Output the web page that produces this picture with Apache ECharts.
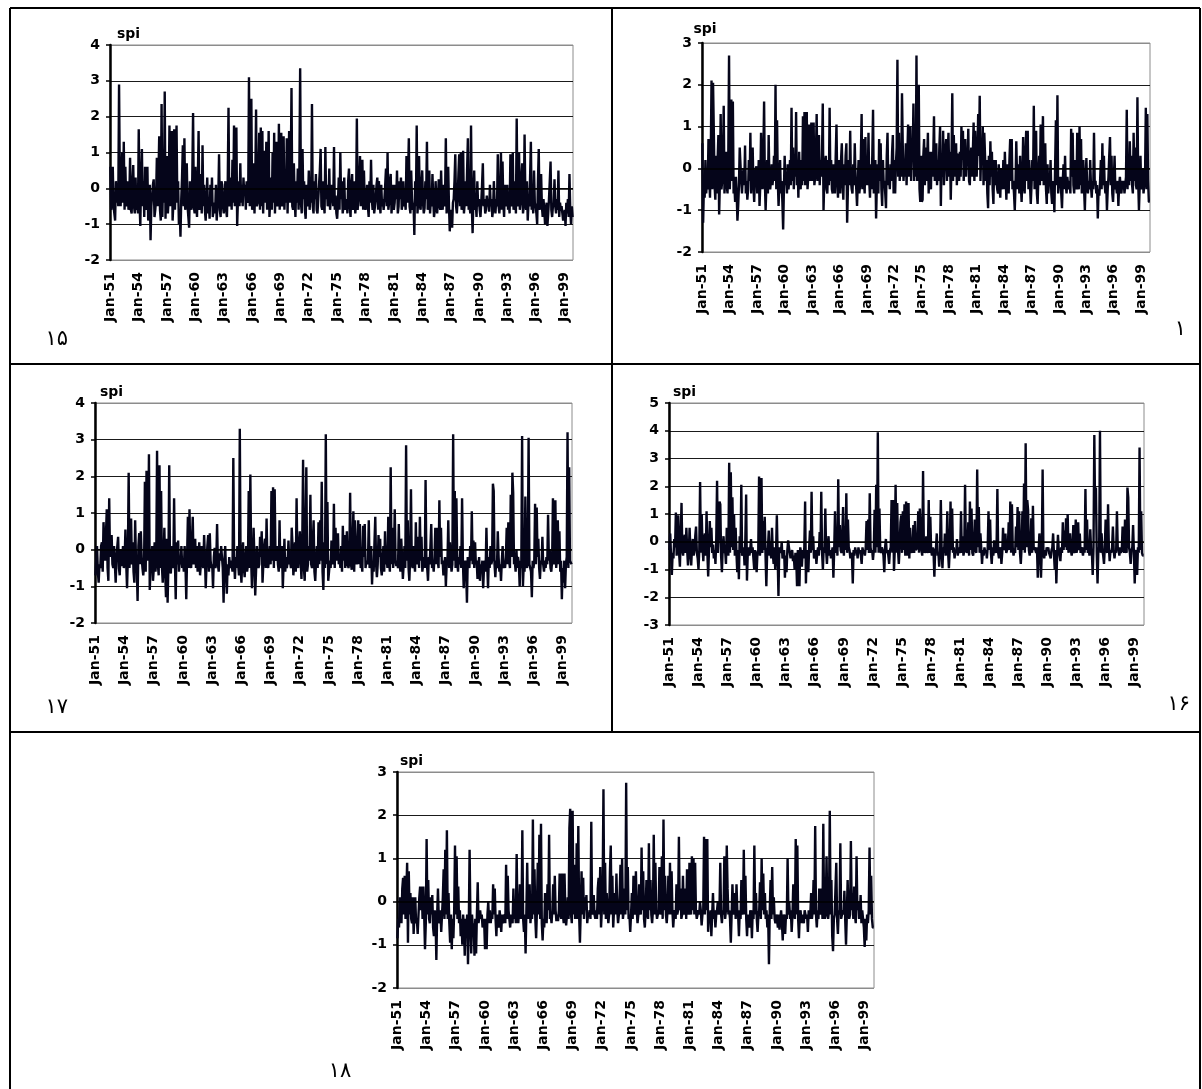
<!DOCTYPE html>
<html><head><meta charset="utf-8">
<script src="https://cdn.jsdelivr.net/npm/echarts@6/dist/echarts.min.js"></script>
<style>html,body{margin:0;padding:0;background:#fff}#c{width:1202px;height:1089px}</style>
</head><body><div id="c"></div><script>
const monthNames=['Jan','Feb','Mar','Apr','May','Jun','Jul','Aug','Sep','Oct','Nov','Dec'];
const firstYear=1951, lastYear=1999;
const tickLabels=['Jan-51','Jan-54','Jan-57','Jan-60','Jan-63','Jan-66','Jan-69','Jan-72','Jan-75','Jan-78','Jan-81','Jan-84','Jan-87','Jan-90','Jan-93','Jan-96','Jan-99'];
const panelLabels=['۱۵','۱','۱۷','۱۶','۱۸'];
const yMins=[-2,-2,-2,-3,-2];
const yMaxs=[4,3,4,5,3];

const spi15=[
0.6,-0.6,-0.3,0.6,-0.5,-0.7,-0.9,0.2,-0.4,0.1,-0.5,2.9,
0.2,-0.5,0.3,1,-0.4,1.3,-0.6,0.6,-0.3,-0.5,0.2,-0.6,
-0.3,0.85,-0.6,-0.7,0.1,0.65,-0.5,-0.7,0.3,-0.6,-0.4,-0.7,
1.65,-0.4,-1.05,0.3,1.1,-0.5,0.2,-0.8,0.6,-0.3,-0.6,0.6,
-0.9,-0.3,0.1,-1.45,-0.5,-0.2,0.1,0.25,-0.8,-0.6,-0.3,0.85,
-0.5,0.3,1.45,-0.6,-0.9,2.35,-0.8,0.5,-0.4,2.7,-0.85,0.4,
0.9,-0.7,-0.3,1.75,-0.5,0.2,1.6,-0.9,-0.4,1.65,-0.6,0.3,
1.75,-0.4,0.2,-1,-0.6,-1.35,-0.3,0.3,1.2,-0.5,1.4,-0.6,
-0.3,0.7,-0.5,-0.8,-1.1,0.2,-0.4,-0.6,0.3,2.1,-0.5,-0.7,
0.6,-0.4,-0.8,0.2,1.6,-0.6,-0.3,0.4,-0.7,1.2,-0.5,0.1,
-0.6,-0.9,-0.3,0.3,-0.7,-0.4,-0.85,0.1,-0.5,0.3,-0.8,-0.6,
-0.4,-0.7,0.1,-0.9,-0.5,-0.3,0.95,-0.6,-0.8,0.2,0.1,-0.5,
-0.7,-0.3,0.2,-0.6,-0.8,0.1,2.25,-0.5,-0.3,0.3,-0.6,0.8,
-0.4,1.75,-0.5,0.3,1.7,-1.05,-0.3,0.2,-0.5,0.7,-0.4,0.1,
-0.5,0.3,-0.2,0.1,-0.6,0.2,-0.4,-0.3,3.1,-0.5,0.4,2.5,
-0.6,-0.3,0.7,-0.7,0.2,2.2,-0.5,-0.4,0.3,1.55,-0.6,1.7,
-0.5,1.6,-0.7,0.2,1.05,-0.4,1.3,-0.6,0.1,1.6,-0.8,-0.3,
0.3,-0.6,1,-0.4,1.55,-0.7,0.2,1.3,-0.5,-0.3,1.8,-0.6,
0.2,1.55,-0.5,-0.3,1.45,-0.6,0.1,-0.4,1.4,-0.7,0.3,1.6,
-0.4,0.3,2.8,-0.5,-0.6,0.7,-0.3,-0.8,0.2,-0.4,0.55,-0.6,
0.5,3.35,-0.4,-0.7,1.1,-0.3,0.2,-0.6,-0.85,0.1,-0.5,-0.3,
0.5,-0.6,-0.2,-0.4,2.35,-0.5,-0.7,0.2,-0.3,0.4,-0.6,-0.7,
-0.3,0.1,0.5,1.1,-0.5,-0.6,0.2,-0.4,-0.7,1.15,-0.3,0.1,
-0.5,-0.4,0.55,-0.6,-0.3,0.1,0,-0.5,1.15,-0.6,-0.2,-0.7,
-0.85,-0.4,0.3,-0.6,1,-0.3,0.2,-0.7,-0.5,0.3,-0.6,-0.4,
-0.3,-0.7,0.2,0.55,-0.5,-0.8,0.1,0.4,-0.6,-0.3,0.2,-0.7,
-0.4,1.95,-0.6,-0.3,0.2,0.9,-0.5,-0.2,0.8,-0.6,0.5,-0.4,
-0.6,-0.3,0.1,-0.5,-0.8,0.2,-0.4,0.8,-0.3,-0.6,0.1,-0.7,
-0.5,-0.3,0.1,0.3,-0.6,0.2,-0.4,-0.7,0.1,-0.5,-0.3,-0.6,
-0.3,0.1,0.55,-0.5,1,-0.6,-0.4,0.2,0.4,-0.7,-0.3,0.1,
-0.6,-0.4,0.1,-0.3,0.5,-0.7,-0.5,0.2,-0.3,0.3,-0.6,-0.4,
0.2,-0.5,-0.3,-0.6,0.9,-0.4,0.3,1.4,-0.5,-0.7,0.5,-0.3,
-0.6,-0.4,-1.3,0.2,-0.5,1.75,-0.7,-0.3,0.9,-0.5,-0.6,0.1,
0.5,-0.4,-0.7,-0.55,0.2,-0.3,1.3,-0.6,-0.4,0.5,-0.7,-0.3,
-0.5,0.4,-0.3,-0.8,-0.6,0.2,-0.4,-0.7,-0.3,0.25,-0.5,-0.6,
0.5,-0.4,-0.6,0.1,-0.5,-0.3,1.4,-0.7,-0.4,0.6,-0.5,-1.2,
-0.6,-0.8,-1.1,-0.4,-0.3,0.2,0.95,-0.5,-0.7,-0.3,0.4,0.95,
-0.5,1,-0.6,-0.3,1.05,-0.7,-0.4,0.2,-0.5,0.5,1.4,-0.6,
-0.4,-0.7,1.75,-0.5,-1.25,-0.3,0.5,-0.6,-0.4,-0.8,0.2,-0.5,
-0.3,-0.6,-0.8,-0.4,0.1,0.7,-0.5,-0.3,-0.7,-0.6,-0.2,-0.5,
-0.4,-0.65,0.1,-0.5,-0.3,-0.8,-0.6,0.2,-0.4,-0.7,-0.3,-0.5,
0.95,-0.5,-0.7,-0.3,1,-0.6,0.75,-0.4,-0.8,0.1,-0.5,-0.3,
0.1,-0.6,-0.4,-0.7,0.95,-0.3,-0.5,1,-0.6,-0.4,0.2,-0.7,
1.95,-0.5,-0.3,1,-0.6,-0.4,0.3,0.7,-0.7,-0.5,1.5,-0.3,
-0.6,0.2,-0.9,-0.4,-0.5,0.3,1.3,-0.6,-0.3,-0.7,0.5,-0.4,
-0.5,-0.7,-1,0.2,1.1,-0.6,-0.4,0.4,-0.5,-0.8,-0.3,-0.6,
-1,-0.6,-0.4,-1.05,-0.7,-0.3,0.2,0.75,-0.6,-0.8,-0.5,-0.4,
0.25,-0.5,-0.7,-0.3,-0.6,0.5,-0.8,-0.4,-0.6,-0.5,-0.7,-0.9,
-0.9,-0.6,-1.05,-0.4,-0.7,-0.3,-0.8,0.4,-0.6,-1,-0.5,-0.8
];

const spi1=[
0.6,-1.3,-0.4,-0.7,0.2,-0.6,-0.3,-0.5,0.7,-0.2,-0.7,0.3,
2.1,-0.5,2.05,0.9,-0.4,-0.75,0.3,-0.6,0.2,0.8,-1.1,-0.3,
1.3,-0.5,-0.3,0.2,1.5,-0.6,-0.2,0.4,-0.4,-0.6,0.3,2.7,
-0.5,0.4,1.65,-0.3,1.6,-0.6,-0.4,-0.8,-0.2,-0.6,-1.25,-0.9,
-0.4,0.5,0.1,-0.3,-0.6,-0.2,0,-0.4,0.55,-0.6,-0.3,-0.75,
-0.5,0.2,-0.3,0.85,-0.6,0.3,0.5,-0.4,-0.8,-0.2,0,0.05,
-0.6,-0.3,0.2,-0.9,-0.4,0.85,-0.2,-0.5,0.3,1.6,-0.3,-1,
-0.4,0.2,-0.6,0.8,-0.3,-0.5,-0.3,0.1,-0.4,-0.2,0.3,-0.3,
2,-0.5,1.15,-0.3,-0.9,-0.4,0.2,-0.6,-0.3,-0.8,-1.46,-0.5,
0.3,-0.4,-0.2,-0.6,0.1,-0.5,-0.3,0.2,-0.4,1.45,-0.3,0.5,
-0.5,0.3,-0.2,1.35,-0.4,0.1,-0.7,0.4,-0.3,-0.5,0.2,-0.4,
1.25,-0.3,1.35,-0.4,0.2,1.35,-0.5,-0.2,1.05,-0.3,0.1,1.1,
-0.3,0.2,1.1,-0.4,-0.2,0.3,1.3,-0.3,0.1,0.8,-0.4,0.2,
-0.2,0.3,1.55,-1,-0.3,0.1,0.3,-0.5,-0.6,0.2,-0.4,1.45,
-0.3,0.2,-0.5,-0.6,0.1,-0.4,-0.6,0.3,1.05,-0.3,-0.7,0.2,
-0.4,-0.6,0.2,0.6,-0.3,-0.75,0.1,-0.4,0.3,0.6,-1.3,-0.5,
0.2,-0.4,0.9,-0.3,-0.5,-0.6,0.1,-0.4,0.6,-0.2,-0.5,-0.9,
-0.3,0.2,-0.6,-0.4,0.3,1.3,-0.5,0.7,-0.3,-0.6,0.75,-0.4,
0.2,-0.4,0.85,-0.3,-0.7,0.1,-0.5,0.3,1.4,-0.6,-0.3,0.2,
-1.2,-0.4,0.1,-0.6,0.7,-0.3,0.6,-0.5,-0.9,0.2,-0.4,-0.3,
-0.6,-0.95,0.3,0.85,-0.4,-0.2,-0.5,0.1,-0.3,0.4,0.8,-0.6,
0.2,-0.6,0.1,0.5,2.6,-0.2,0.85,-0.3,0.4,-0.2,1.8,0.55,
-0.3,0.2,-0.2,0.6,-0.4,0.3,1.05,-0.2,0.4,1,-0.3,0.5,
0.2,1.55,-0.3,0.6,-0.2,2.7,-0.3,0.4,2,-0.5,-0.8,0.3,
-0.8,-0.75,0.3,0.7,-0.4,0.5,-0.3,0.2,0.85,-0.6,0.4,-0.3,
-0.5,0.4,-0.2,0.3,1.25,-0.3,0.3,0.6,-0.4,0.2,-0.3,0.5,
1,-0.9,0.3,-0.2,0.9,-0.4,0.2,0.5,0.7,-0.3,0.4,0.85,
-0.2,0.4,-0.75,0.2,1.8,-0.3,0.8,-0.2,0.5,0.6,-0.4,0.35,
0.3,-0.3,0.4,-0.2,1,0.2,0.9,-0.3,0.4,0.7,-0.2,0.3,
0.2,0.95,-0.3,-0.4,0.3,0.5,-0.2,0.4,1.1,-0.3,0.9,0.2,
-0.2,0.4,1.3,0.3,1.74,-0.3,0.5,0.2,1,-0.4,0.85,0.3,
-0.3,0.2,-0.6,-0.95,0.3,-0.4,0.65,-0.2,0.4,-0.5,-0.85,0.2,
-0.4,0.2,-0.3,-0.5,-0.6,0.1,-0.4,-0.7,0,-0.3,-0.5,0.2,
-0.5,0.4,-0.2,-0.75,0.1,-0.4,-0.6,0.2,0.7,-0.3,0.7,-0.5,
-0.3,-0.6,-1,-0.4,0.65,-0.2,-0.5,0.1,-0.6,0.3,-0.4,-0.8,
-0.2,0.75,-0.4,-0.6,0.3,0.9,-0.3,0.9,-0.5,0.2,-0.4,-0.85,
-0.4,0.2,-0.3,1.5,-0.5,0.4,0.9,-0.6,-0.85,-0.2,0.3,-0.4,
1.05,-0.3,0.4,1.25,-0.4,-0.2,0.6,-0.5,-0.85,0.1,-0.6,-0.3,
-0.4,0.2,-0.6,-0.85,-0.3,-0.5,-1.05,0.1,1.15,-0.4,1.75,-0.6,
-0.3,-0.4,-0.2,-0.6,-0.95,-0.3,0.1,-0.5,0.3,-0.4,-0.6,-0.2,
-0.4,-0.5,-0.3,-0.6,0.95,-0.2,0.85,-0.4,-0.6,0.2,-0.3,-0.5,
0.85,-0.3,-0.5,1,-0.4,0.7,-0.6,-0.3,0.2,-0.5,-1,-0.3,
0.25,-0.4,-0.6,-0.3,-0.5,0.2,-0.4,-0.7,-0.3,-0.5,0.85,-0.4,
-0.3,-0.6,-0.4,-1.2,-0.5,-0.65,-0.3,0.2,-0.5,0.6,-0.4,0.3,
-0.4,-0.6,-0.3,-1,-0.5,-0.2,0.3,0.75,-0.4,0.3,-0.6,-0.8,
-0.3,0.3,-0.5,-0.4,-0.6,-0.3,-0.9,-0.4,-0.2,-0.5,-0.6,-0.3,
-0.5,-0.3,-0.6,-0.4,-0.2,1.4,-0.5,0.3,-0.4,0.65,-0.3,0.3,
-0.4,-0.6,0.85,-0.3,0.5,-0.4,-0.5,1.7,-0.3,-1,-0.4,0.3,
-0.5,-0.3,0,-0.6,-0.4,-0.2,1.45,-0.5,1.3,-0.3,-0.8,-0.8
];

const spi17=[
-0.7,-0.3,0.1,-0.6,-0.9,-0.4,-0.5,0.1,0.2,-0.6,0.75,0.7,
-0.3,0.4,1.1,-0.5,-0.85,1.4,-0.2,0.3,0.4,-0.4,-0.5,0.1,
-0.4,-0.9,-0.2,0.1,0.35,-0.5,-0.7,0,-0.45,-0.3,0.1,-0.5,
-0.3,0.55,-0.4,-1.05,-0.2,2.1,-0.5,0.3,0.85,-0.4,0.2,-0.6,
-0.9,0.8,-0.3,-0.5,-1.4,0.1,0.45,-0.4,0.5,-0.2,-0.5,-0.7,
-0.4,1.85,-0.6,2.15,-0.3,0.2,2.6,-1.1,-0.5,-0.3,0.1,-0.85,
-0.5,0.2,-0.6,-0.3,2.7,-0.4,-0.7,2.3,-0.5,1.6,-0.45,-0.9,
-0.3,0.6,-0.6,-1.3,0.3,-1.45,-0.4,2.3,-0.5,-0.65,0.1,-0.4,
-0.5,1.4,-0.3,-1.35,0.2,-0.4,0.25,-0.6,-0.3,-0.4,0.1,-0.5,
-0.3,-0.6,0.1,-0.4,-1.35,-0.2,0.9,-0.5,1.1,-0.3,-0.5,0.2,
0.9,-0.4,-0.2,0.3,-0.5,0.1,-0.6,-0.3,0.2,-0.7,-0.4,0.1,
-0.3,-0.5,0.4,-0.2,-1.05,-0.4,0.1,0.4,-0.6,0.45,-0.3,-0.5,
-0.4,-1.05,-0.2,0.05,-0.5,-0.3,0.7,-0.4,-0.6,-0.1,-0.3,0.1,
0.05,-0.5,-1.45,-0.3,0.1,-0.6,-1.2,-0.4,-0.7,-0.2,-0.5,-0.3,
-0.4,-0.6,2.5,-0.3,-0.8,-0.2,-0.5,0.1,-0.4,-0.7,3.3,-0.5,
-0.9,-0.3,0.2,-0.5,-0.75,-0.2,0.1,-0.6,-0.4,1.6,-0.5,2.05,
-0.3,-1.05,-0.4,0.6,-0.2,-1.25,-0.6,0.1,-0.3,-0.5,-0.4,0.35,
-0.2,0.5,-0.9,-0.4,0.1,0.3,-0.5,0.85,-0.3,-0.5,-0.2,0.1,
-0.4,1.6,-0.3,1.7,-0.5,1.65,-0.2,-0.3,0.1,-0.4,-0.6,0.8,
-0.5,-0.3,0.1,-1.05,-0.4,0.3,-0.6,-0.2,-0.5,-0.3,0.25,-0.4,
-0.3,-0.5,0.6,0.1,-0.7,-0.4,0.2,-0.6,1.4,-0.3,-0.5,0.1,
0.5,-0.3,-0.8,0.2,2.45,-0.5,-0.85,0.3,2.25,-0.6,-0.4,0.1,
-0.3,1.5,-0.4,-0.5,0.2,0.8,-0.6,-0.85,-0.3,0.1,-0.5,0.75,
-0.4,0.8,-0.3,1.85,-0.6,-1.1,0.2,-0.5,3.15,-0.4,1.3,-0.85,
-0.6,-0.3,-0.5,0.25,-0.2,-0.4,1.25,-0.5,0.6,-0.3,0.2,0.45,
-0.4,-0.2,-0.5,0.1,-0.6,0.65,-0.3,0.4,-0.5,-0.2,0.5,-0.4,
-0.5,-0.3,1.55,-0.4,-0.55,0.2,1.05,-0.6,0.8,-0.3,-0.4,0.1,
0.8,-0.4,0.7,-0.5,-0.3,-0.6,0.65,-0.2,0.7,-0.5,-0.3,-0.4,
-0.3,0.8,-0.5,-0.4,0.1,-0.95,-0.3,-0.6,0.2,0.9,-0.4,-0.75,
-0.4,0.4,-0.2,0.3,-0.5,-0.7,-0.3,0.1,-0.6,0.5,-0.4,-0.2,
-0.5,0.9,-0.3,-0.6,2.25,-0.4,0.6,-0.5,-0.2,1.1,-0.3,-0.45,
-0.3,-0.5,0.7,-0.4,-0.6,0.3,-0.2,-0.8,-0.4,0.1,-0.5,2.85,
-0.3,0.8,-0.5,-0.85,-0.2,1.65,-0.4,-0.5,0.1,-0.3,-0.6,0.75,
-0.4,-0.2,0.35,-0.5,0.9,-0.3,0.35,-0.6,-0.4,-0.2,-0.5,1.9,
-0.3,-0.5,-0.85,-0.2,-0.4,0.1,0.7,-0.5,-0.3,-0.6,-0.2,0.6,
-0.4,0.6,-0.3,-0.5,1.35,-0.2,0.6,-0.4,-0.3,-0.7,-0.5,-0.2,
-1,-0.4,-0.3,0.8,-0.5,0.2,-0.3,-0.6,-0.4,3.15,-0.3,1.6,
-0.5,1.4,-0.3,-0.6,-0.2,-0.4,0.1,-0.5,1.4,-0.3,-1.05,-0.4,
-0.3,-0.6,-1.45,-0.2,-0.4,-0.5,0.1,-0.3,1.05,-0.4,0.25,-0.5,
0.2,-0.4,-0.3,-0.8,-0.5,-0.2,-0.85,-0.4,-0.6,-0.3,-1.05,-0.5,
-0.3,-0.6,0.6,-0.4,-1.05,-0.2,-0.5,0.1,-0.4,-0.3,1.8,1.6,
-0.4,-0.75,-0.3,-0.5,0.5,-0.2,-0.6,-0.4,-0.85,-0.3,0.1,-0.5,
-0.3,-0.5,-0.2,0.6,-0.4,0.75,-0.3,-0.5,1.5,-0.2,2.1,1.55,
-0.4,-0.3,-0.6,0,-0.5,-0.2,-0.4,-1,-0.3,-0.5,3.1,-1,
-0.4,-0.6,1.45,-0.3,-0.5,-0.2,3.05,-0.4,-0.4,-0.6,-1.3,-0.3,
-0.5,-0.3,1.25,-0.4,1.15,-0.2,0.3,-0.5,-0.8,-0.3,-0.4,0.35,
-0.4,-0.6,-0.3,-0.5,-0.2,-0.4,0.95,-0.3,0,-0.5,-0.6,-0.3,
1.4,-0.4,-0.3,1.35,-0.5,-0.2,0.8,-0.4,0.5,-0.6,-0.3,-1.35,
-0.5,-0.9,-0.3,-1.05,-0.4,-0.2,3.2,-0.5,2.25,-0.3,-0.3,-0.4
];

const spi16=[
-0.3,0.3,-0.5,-1.2,-0.4,-0.6,0.1,-0.2,1.05,-0.5,0.4,0.95,
-0.4,-0.9,0.2,1.4,-0.3,-0.5,0.1,0.25,-0.4,0.5,-0.3,-0.85,
-0.4,0.5,-0.3,-0.85,-0.2,0.1,-0.5,-0.3,0.2,0.55,-0.4,-0.6,
-1,-0.3,2.15,-0.4,1,-0.2,-0.7,0.1,0.3,-0.5,1.1,-0.4,
-1.25,-0.3,0.75,-0.2,0.5,-0.4,-0.1,-0.6,-0.3,-0.8,0.1,2.2,
-0.4,0.3,1.45,1.35,-0.5,-1.1,-0.2,0.2,-0.4,-0.3,-0.8,0.5,
-0.3,-0.5,2.85,-0.4,2.5,-0.2,1.6,-0.3,1,-0.5,0.5,-0.4,
-1.1,-0.3,-1.35,0.2,-0.4,2.05,-0.5,-0.4,-0.2,-0.85,0.1,1.7,
-1.4,-0.4,-0.2,-0.5,-0.3,0.1,-0.4,-0.2,-0.6,-1,-0.3,-0.5,
-1.1,-0.4,-0.3,2.35,-0.5,-0.2,2.3,-0.4,0.75,-0.3,0.9,-0.5,
-1.6,-0.4,-0.2,0.4,-0.5,-0.3,-0.6,0.5,-0.4,-0.8,-0.2,-1,
-0.4,0.95,-0.5,-1.95,-0.2,-0.3,-0.4,0,-0.6,-0.5,-0.3,-1.3,
-0.5,-1.1,-0.3,0.05,-0.2,-0.4,-0.6,-0.4,-0.3,-0.7,-0.5,-1,
-0.4,-0.6,-1.6,-0.3,-0.5,-1.6,-0.2,-0.4,-0.9,-0.3,-0.6,-0.2,
1.45,-1.5,-0.3,-0.5,-1.1,-0.2,0.4,-0.4,1.8,-0.3,0.2,-0.6,
-0.6,-0.3,-0.8,-0.4,-0.2,-0.5,0.35,-0.3,1.8,-0.4,-1,-0.2,
-0.4,1.2,-0.3,-0.8,-0.2,0.2,-0.5,-0.3,-0.6,-0.4,-0.2,-1.3,
-0.3,1.1,-0.4,0.4,-0.5,2.25,-0.2,0.6,-0.3,-0.4,0.2,1.25,
-0.5,0.55,-0.3,1.75,-0.4,0.8,-0.2,-0.3,-0.6,-0.4,-0.5,-1.5,
-0.3,-0.5,-0.2,-0.4,-0.3,-0.6,-0.2,-0.4,-0.3,-0.5,-0.8,-0.2,
-0.4,-0.3,-0.5,-0.2,0.75,-0.3,0.8,-0.4,1.75,-0.2,-0.4,-0.3,
-0.65,-0.3,1.15,-0.4,2.05,-0.2,3.95,-0.4,1.2,-0.3,-0.4,-0.2,
-0.3,-0.5,-1.1,-0.2,0.1,-0.4,-0.3,-0.5,-0.8,-0.3,-0.2,1.5,
-0.4,1.5,-1.05,-0.3,2.05,-0.4,1.4,-0.3,-0.8,-0.2,0.7,0.95,
-0.4,1.1,-0.3,1.35,-0.5,1.45,-0.2,-0.5,1.4,-0.6,0.5,-0.3,
-0.4,-0.2,0.6,-0.4,0.75,-0.3,-0.35,-0.2,1.1,-0.4,1.2,0.5,
-0.3,-0.5,2.55,-0.2,-0.4,-0.3,0.2,-0.4,-0.3,1.5,-0.4,0.9,
-0.3,-0.5,-0.2,-0.4,-1.26,-0.3,-0.2,0.3,-0.5,-0.4,-0.9,-0.3,
1.5,-0.3,-0.95,-0.2,-0.4,0.3,-0.5,-0.3,1.1,-0.4,-0.95,-0.3,
1.45,-0.3,1.2,-0.4,-0.2,-0.6,-0.3,-0.4,0.1,-0.5,-0.2,-0.4,
-0.3,1.1,-0.4,0.2,-0.5,-0.3,2.05,-0.2,-0.4,-0.3,0.7,-0.5,
1.45,-0.3,1.2,-0.4,-0.5,-0.2,0.8,-0.3,-0.4,2.6,-0.2,1.25,
-0.4,0.3,-0.2,-0.8,-0.3,-0.5,-0.2,-0.4,-0.3,-0.6,-0.2,1.1,
-0.3,0.8,-0.4,-0.8,-0.2,-0.5,0.05,-0.3,-0.4,-0.2,1.9,-0.4,
-0.6,-0.3,-0.2,-0.8,-0.4,0.5,-0.3,-0.2,0.3,-0.4,-0.3,-0.2,
0.7,-0.3,1.45,-0.4,1.35,-0.2,-0.5,-0.3,-0.4,0.55,-0.2,1.25,
-0.3,1.1,-0.4,-0.8,-0.2,1.1,-0.3,2.1,-0.4,3.55,-0.2,1.5,
1.15,-0.3,-0.5,-0.2,0.85,-0.4,1.3,-0.3,-0.2,-0.3,-0.4,-0.2,
-1.3,-0.4,0.3,-0.2,-1.3,-0.3,2.6,-0.4,-0.6,-0.3,-0.5,-0.2,
-0.3,-0.2,-0.4,-0.5,-0.6,-0.3,-0.2,0.3,-0.4,-1,-0.3,-1.5,
-0.4,0.25,-0.3,-0.5,-0.7,-0.2,-0.4,0.7,-0.3,0.4,-0.2,0.85,
-0.3,1,-0.4,-0.2,0.3,-0.3,-0.5,-0.2,0.6,-0.4,-0.3,0.8,
-0.4,-0.2,0.7,-0.3,0.3,-0.4,-0.2,-0.3,-0.5,-0.2,-0.4,1.9,
-0.3,0.8,-0.4,-0.2,-0.5,0.45,-0.3,-0.4,-1.2,-0.2,3.85,1,
1.95,-0.4,-1.5,-0.3,-0.2,4,-0.4,0.3,-0.3,-0.5,-0.8,-0.2,
0.8,-0.3,-0.4,1.35,-0.2,-0.7,-0.3,-0.4,-0.2,0.55,-0.3,-0.6,
-0.3,-0.4,1.1,-0.2,-0.3,-0.5,-0.2,-0.4,-0.3,0.55,-0.2,-0.4,
0.8,-0.3,-0.4,1.95,1.6,-0.2,-0.4,-0.8,-0.3,-0.2,0.6,-0.4,
-1.5,-0.4,-0.3,-1.2,-0.2,-0.4,3.4,-0.3,1.1,-0.4,-0.5,-0.5
];

const spi18=[
-0.85,-0.4,-0.6,0.1,-0.2,-0.5,0.3,0.55,-0.3,0.6,-0.4,0.2,
0.9,-0.95,0.7,-0.3,0.2,-0.4,-0.5,0.1,-0.75,-0.3,0.1,-0.5,
-0.4,-0.75,-0.3,0.1,0.35,-0.2,0.35,-0.4,0.35,-0.3,-1.1,-0.5,
1.45,-0.3,0.5,-0.4,-0.5,0.1,-0.3,0.15,-0.6,-0.8,-0.2,-0.4,
-1.35,-0.3,0.3,-0.4,-0.5,-0.2,-0.7,-0.3,0.1,0.75,-0.4,1.2,
-0.3,1.65,-0.4,0.2,-0.5,-0.95,-0.3,-1.1,-0.4,-0.85,-0.2,1.3,
-0.3,1.05,-0.4,0.35,-0.5,-0.2,-0.8,-0.4,-1,-0.3,-0.6,-1.25,
-0.4,-0.7,-0.3,-1.45,-0.5,1.2,-0.4,-1.2,-0.3,-0.6,-0.5,-1.25,
-0.4,-1.2,-0.3,0.45,-0.5,-0.5,-0.2,-0.4,-0.3,-0.6,-0.4,-0.5,
-1.1,-0.4,-1.1,-0.3,0,-0.5,-0.2,-0.5,-0.3,-0.4,0.4,-0.3,
0.3,-0.4,-0.8,-0.3,-0.5,-0.6,-0.2,-0.4,-0.7,-0.3,-0.5,-0.4,
-0.3,-0.5,0.85,-0.4,0.6,-0.2,-0.4,-0.6,-0.3,-0.3,-0.5,0.3,
-0.4,-0.2,-0.5,1.1,-0.3,-0.5,-0.2,0.4,-0.4,-0.3,1.65,-0.4,
-0.7,-0.3,-1.2,-0.2,0.9,-0.4,-0.3,0.4,-0.5,-0.2,-0.4,1.9,
-0.3,0.75,-0.4,-0.85,-0.2,0.9,-0.3,1.55,-0.4,1.8,-0.5,-0.9,
-0.4,-0.6,0.2,-0.3,-0.5,0.4,-0.2,1.55,-0.4,-0.3,-0.5,-0.2,
0.4,-0.3,0.6,-0.2,-0.45,-0.3,-0.45,-0.2,0.65,-0.3,-0.4,0.65,
-0.3,-0.5,0.65,-0.2,-0.55,-0.3,0.1,-0.4,1.7,2.15,-0.3,-0.5,
2.1,-0.3,0.85,-0.4,-0.2,1.35,-0.4,1.75,-0.3,-0.95,-0.2,0.7,
-0.3,0.55,-0.4,0.1,-0.2,0.15,-0.5,-0.3,-0.35,-0.2,-0.4,1.85,
-0.3,-0.2,0.15,-0.3,-0.4,-0.2,-0.4,0.3,0.55,-0.3,0.8,-0.6,
-0.2,0.3,2.6,-0.3,0.9,-0.4,0.2,-0.2,-0.5,-0.3,0.7,1.3,
-0.3,0.6,-0.6,-0.2,0.2,-0.3,0.65,-0.2,-0.5,-0.3,0.2,0.85,
-0.3,1,-0.4,-0.2,0.3,-0.3,2.75,-0.2,0.8,-0.4,-0.3,-0.7,
-0.3,0.2,-0.4,0.6,-0.2,-0.3,0.7,-0.2,-0.5,-0.3,0.4,-0.2,
-0.3,1.25,-0.2,0.7,-0.4,-0.6,-0.2,0.5,-0.3,-0.4,1.35,-0.2,
0.5,-0.3,-0.5,-0.2,1.55,-0.3,0.9,-0.2,-0.4,-0.3,-0.2,0.8,
-0.3,-0.2,1.05,-0.4,1.9,-0.2,0.6,-0.3,-0.5,-0.2,0.6,-0.3,
0.9,-0.3,0.7,-0.2,-0.6,-0.3,-0.2,-0.4,0.4,-0.3,-0.2,1.5,
-0.2,0.3,-0.4,-0.3,0.6,-0.2,-0.3,0.3,-0.4,0.75,-0.2,-0.3,
0.9,-0.2,-0.3,1.05,-0.2,1,-0.3,0.9,-0.2,-0.4,-0.3,-0.2,
-0.3,0,-0.2,-0.55,-0.3,-0.2,1.5,-0.3,1.45,-0.2,1.45,-0.7,
-0.3,-0.4,-0.2,-0.8,-0.3,0.2,-0.4,-0.2,-0.6,-0.3,-0.2,0,
-0.3,-0.2,0.9,-0.3,-0.5,-0.2,-0.3,1.05,-0.4,-0.2,1.3,0.3,
-0.3,-0.2,-0.4,-0.95,-0.3,0.4,-0.2,-0.3,0.2,-0.4,0.4,-0.2,
-0.3,-0.8,-0.2,-0.4,0.5,-0.3,-0.2,1.2,-0.3,0.6,-0.4,-0.8,
-0.3,-0.4,-0.6,-0.2,-0.3,-0.85,-0.2,-0.4,1.3,-0.3,0.2,-0.4,
-0.7,-0.3,-0.2,0.45,-0.4,1,-0.2,0.65,-0.3,0.2,-0.4,-0.2,
-0.6,-0.3,-1.45,-0.2,0.5,-0.4,0.8,-0.3,0.1,-0.4,-0.5,-0.3,
-0.4,-0.6,-0.3,-0.65,-0.4,-0.2,-0.5,-0.9,-0.3,-0.4,-0.75,-0.3,
-0.4,1,-0.3,0,-0.4,-0.2,-0.7,-0.3,0.4,-0.2,-0.4,1.45,
-0.3,1.3,-0.4,-0.85,-0.3,-0.2,-0.5,-0.3,-0.4,-0.5,-0.2,-0.3,
-0.4,-0.3,-0.7,-0.2,-0.4,-0.3,0.2,-0.4,-0.2,0.5,-0.3,1.75,
-0.3,-0.6,-0.2,-0.4,0.3,-0.3,-0.2,0.3,-0.4,1.8,-0.3,-0.4,
-0.2,1.05,-0.3,-0.4,-0.2,2.1,-0.3,0.5,-0.8,-1.15,-0.4,-0.3,
-0.3,0.9,-0.4,-0.75,-0.2,-0.3,1.35,-0.4,-0.4,-0.2,-0.3,0.25,
-0.4,-1,-0.3,0.5,-0.2,-0.4,-0.3,1.4,-0.2,0.2,-0.4,0.35,
-0.3,-0.5,1.05,-0.2,0,-0.4,-0.3,0.15,-0.5,-0.2,-0.4,-0.6,
-1.05,-0.4,-0.9,-0.3,-0.5,-0.2,1.25,-0.3,0.6,-0.4,-0.6,-0.6
];

const categories=[];
for(let y=firstYear;y<=lastYear;y++){for(const m of monthNames){categories.push(m+'-'+String(y).slice(2));}}
const tickSet=new Set(tickLabels);
const seriesData=[spi15,spi1,spi17,spi16,spi18];

const layout=[
 {left:110,top:45,width:463,height:215,nameAlign:'left',namePad:7,lx:68,ly:340,la:'right'},
 {left:702,top:43,width:448,height:209,nameAlign:'center',namePad:6,lx:1186,ly:330,la:'right'},
 {left:95,top:403,width:477,height:220,nameAlign:'left',namePad:5,lx:68,ly:708,la:'right'},
 {left:669,top:403,width:475,height:222,nameAlign:'left',namePad:4,lx:1190,ly:705,la:'right'},
 {left:397,top:772,width:477,height:216,nameAlign:'left',namePad:3,lx:340,ly:1072,la:'center'}
];
const FONT='DejaVu Sans';
const grid=[],xAxis=[],yAxis=[],series=[];
layout.forEach((p,i)=>{
  grid.push({left:p.left,top:p.top,width:p.width,height:p.height,show:true,borderColor:'#8c8c8c',borderWidth:1,backgroundColor:'transparent',containLabel:false});
  xAxis.push({type:'category',gridIndex:i,data:categories,boundaryGap:true,
    axisLine:{show:false,onZero:false},axisTick:{show:false},splitLine:{show:false},
    axisLabel:{interval:(idx,val)=>tickSet.has(val),rotate:90,margin:12,color:'#000',fontFamily:FONT,fontWeight:'bold',fontSize:14}});
  const n=yMaxs[i]-yMins[i]+1;const cols=[];for(let k=0;k<n;k++){cols.push(k===0||k===n-1?'#8c8c8c':'#1a1a1a');}
  yAxis.push({type:'value',gridIndex:i,min:yMins[i],max:yMaxs[i],interval:1,
    name:'spi',nameLocation:'end',nameGap:4,
    nameTextStyle:{color:'#000',fontFamily:FONT,fontWeight:'bold',fontSize:14,align:p.nameAlign,verticalAlign:'bottom',padding:[0,0,0,p.namePad]},
    axisLine:{show:true,onZero:false,lineStyle:{color:'#000',width:2.5}},
    axisTick:{show:true,inside:false,length:4,lineStyle:{color:'#000',width:1.5}},
    axisLabel:{margin:10,color:'#000',fontFamily:FONT,fontWeight:'bold',fontSize:14},
    splitLine:{show:true,lineStyle:{color:cols,width:1}}});
  series.push({type:'line',xAxisIndex:i,yAxisIndex:i,data:seriesData[i],symbol:'none',showSymbol:false,silent:true,animation:false,
    lineStyle:{color:'#05051a',width:2.4,join:'bevel'},
    markLine:{silent:true,symbol:'none',animation:false,label:{show:false},lineStyle:{color:'#000',width:1.5,type:'solid'},data:[{yAxis:0}]}});
});
const graphic=[];
const L=(x1,y1,x2,y2)=>graphic.push({type:'line',silent:true,shape:{x1,y1,x2,y2},style:{stroke:'#000',lineWidth:2}});
L(10,8,1200,8);L(10,364,1200,364);L(10,732,1200,732);L(612,8,612,732);L(10,8,10,1089);L(1200,8,1200,1089);
layout.forEach((p,i)=>{
  graphic.push({type:'text',silent:true,x:p.lx,y:p.ly,style:{text:panelLabels[i],font:'21px "DejaVu Sans"',fill:'#000',align:p.la,textAlign:p.la,verticalAlign:'middle',textVerticalAlign:'middle'}});
});
const chart=echarts.init(document.getElementById('c'),null,{renderer:'canvas'});
chart.setOption({animation:false,backgroundColor:'#fff',grid,xAxis,yAxis,series,graphic});
</script></body></html>
